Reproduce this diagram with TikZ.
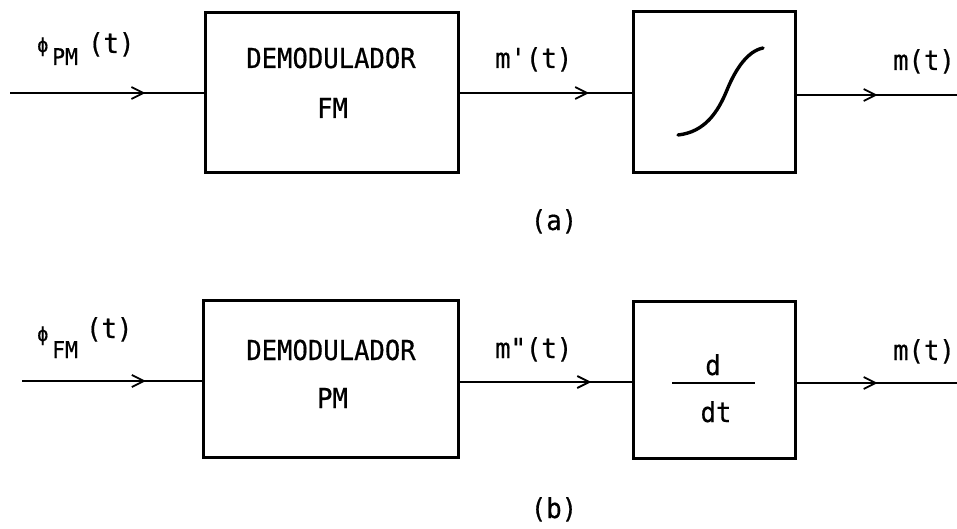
\documentclass[tikz,border=0pt]{standalone}
\usepackage{fontspec}
\newfontfamily\tyfont[FakeStretch=0.93, FakeBold=0.6]{DejaVu Sans Mono}
\usetikzlibrary{arrows.meta,decorations.markings}
\tikzset{
  blockbox/.style={draw, line width=3pt, rectangle, inner sep=0pt},
  conn/.style={line width=2.7pt},
  midarrow/.style={postaction={decorate, decoration={markings,
      mark=at position #1 with {\arrow{Straight Barb[length=12pt,width=12pt,line width=1.8pt]}}}}},
  txt/.style={font=\tyfont\fontsize{27.5}{30}\selectfont, inner sep=0pt},
  subtxt/.style={font=\tyfont\fontsize{23}{26}\selectfont, inner sep=0pt},
  phitxt/.style={font=\tyfont\fontsize{20}{22}\selectfont, inner sep=0pt},
}
\begin{document}
\begin{tikzpicture}[x=1pt,y=-1pt]
\useasboundingbox (0,0) rectangle (957,529);
% ---- (a) ----
\node[blockbox, minimum width=253pt, minimum height=160pt] (A1) at (331.5,93) {};
\node[blockbox, minimum width=162pt, minimum height=161pt] (A2) at (714,92.5) {};
\coordinate (Ain) at (10,93);
\coordinate (Aout) at (957,95);
\draw[conn, midarrow=0.70] (Ain) -- (A1.west |- Ain);
\draw[conn, midarrow=0.754] (A1.east |- Ain) -- (A2.west |- Ain);
\draw[conn, midarrow=0.506] (A2.east |- Aout) -- (Aout);
\node[txt, anchor=base] (A1t1) at (331,68) {DEMODULADOR};
\node[txt, anchor=base] (A1t2) at (332.5,118) {FM};
\draw[line width=3.4pt, line cap=round] (678,135) .. controls (705,132) and (718,112) .. (727,90) .. controls (736,68) and (748,51) .. (763,48);
\node[phitxt, anchor=base west] (Aphi) at (37,52) {ϕ};
\node[subtxt, anchor=base west] (Asub) at (52,65) {PM};
\node[txt, anchor=base west] (At) at (88,53) {(t)};
\node[txt, anchor=base west] (Am1) at (495,68) {m'(t)};
\node[txt, anchor=base west] (Am) at (893,70) {m(t)};
\node[txt, anchor=base] (Acap) at (554,230) {(a)};
% ---- (b) ----
\node[blockbox, minimum width=255pt, minimum height=157pt] (B1) at (330.5,378.5) {};
\node[blockbox, minimum width=162pt, minimum height=157pt] (B2) at (714,379.5) {};
\coordinate (Bin) at (22,381);
\coordinate (Bmid) at (458,382);
\coordinate (Bout) at (957,383);
\draw[conn, midarrow=0.69] (Bin) -- (B1.west |- Bin);
\draw[conn, midarrow=0.766] (B1.east |- Bmid) -- (B2.west |- Bmid);
\draw[conn, midarrow=0.506] (B2.east |- Bout) -- (Bout);
\node[txt, anchor=base] (B1t1) at (331,360) {DEMODULADOR};
\node[txt, anchor=base] (B1t2) at (332.5,408) {PM};
\node[txt, anchor=base] (Bd) at (713,375) {d};
\node[txt, anchor=base] (Bdt) at (716,422) {dt};
\coordinate (barL) at (672,383);
\coordinate (barR) at (755,383);
\draw[line width=2.2pt] (barL) -- (barR);
\node[phitxt, anchor=base west] (Bphi) at (37,341) {ϕ};
\node[subtxt, anchor=base west] (Bsub) at (52,358) {FM};
\node[txt, anchor=base west] (Bt) at (86,338) {(t)};
\node[txt, anchor=base west] (Bm2) at (495,358) {m"(t)};
\node[txt, anchor=base west] (Bm) at (893,360) {m(t)};
\node[txt, anchor=base] (Bcap) at (554,518) {(b)};
\end{tikzpicture}
\end{document}
